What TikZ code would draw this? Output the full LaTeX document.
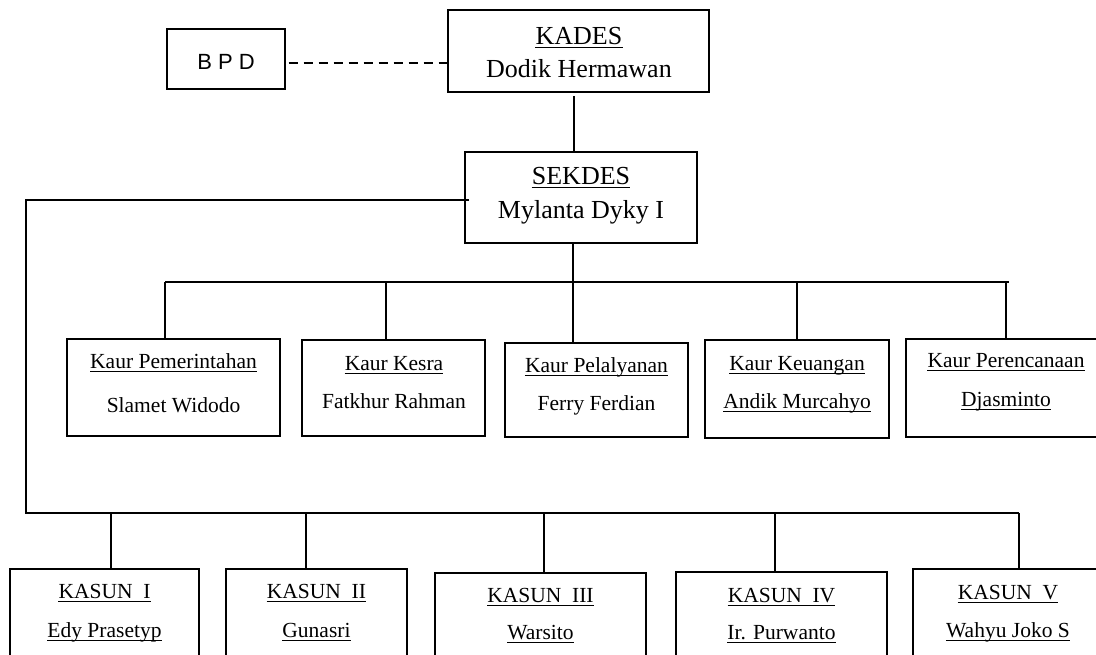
\documentclass[tikz,border=0pt]{standalone}
\usepackage{fontspec}
\setmainfont{Liberation Serif}
\newfontfamily\bpdfont{Liberation Sans}
\usetikzlibrary{fit}
\newcommand\bigf{\fontsize{26}{30}\selectfont}
\newcommand\smf{\fontsize{21.5}{25}\selectfont}
\tikzset{
  box/.style={draw, line width=1.4pt, inner sep=0pt},
  lbl/.style={anchor=base, inner sep=0pt},
  big/.style={lbl, font=\bigf},
  sml/.style={lbl, font=\smf},
  conn/.style={line width=1.4pt},
  ulline/.style={line width=1.1pt},
}
\begin{document}
\begin{tikzpicture}[x=1pt,y=-1pt]
\useasboundingbox (0,0) rectangle (1096,654);
\clip (0,0) rectangle (1096,654);
\fill[white] (0,0) rectangle (1096,654);
% top
\node[box, fit={(167,29) (285,89)}] (bpd) {};
\node[lbl, font=\bpdfont\fontsize{22}{26}\selectfont] (bpdt) at (226,69) {B P D};
\node[box, fit={(448,10) (709,92)}] (kad) {};
\node[big] (kadt1) at (579,44) {KADES};
\node[big] (kadt2) at (579,77) {Dodik Hermawan};
\node[box, fit={(465,152) (697,243)}] (sek) {};
\node[big] (sekt1) at (581,184) {SEKDES};
\node[big] (sekt2) at (581,218) {Mylanta Dyky I};
% kaur boxes
\node[box, fit={(67,339) (280,436)}] (kr1) {};
\node[box, fit={(302,340) (485,436)}] (kr2) {};
\node[box, fit={(505,343) (688,437)}] (kr3) {};
\node[box, fit={(705,340) (889,438)}] (kr4) {};
\node[box, fit={(906,339) (1106,437)}] (kr5) {};
\node[sml] (kr1a) at (173.5,368) {Kaur Pemerintahan};
\node[sml] (kr1b) at (173.5,412) {Slamet Widodo};
\node[sml] (kr2a) at (394,370) {Kaur Kesra};
\node[sml] (kr2b) at (394,408) {Fatkhur Rahman};
\node[sml] (kr3a) at (596.5,372) {Kaur Pelalyanan};
\node[sml] (kr3b) at (596.5,410) {Ferry Ferdian};
\node[sml] (kr4a) at (797,370) {Kaur Keuangan};
\node[sml] (kr4b) at (797,408) {Andik Murcahyo};
\node[sml] (kr5a) at (1006,367) {Kaur Perencanaan};
\node[sml] (kr5b) at (1006,406) {Djasminto};
% kasun boxes
\node[box, fit={(10,569) (199,690)}] (ks1) {};
\node[box, fit={(226,569) (407,690)}] (ks2) {};
\node[box, fit={(435,573) (646,690)}] (ks3) {};
\node[box, fit={(676,572) (887,690)}] (ks4) {};
\node[box, fit={(913,569) (1103,690)}] (ks5) {};
\node[sml] (ks1a) at (104.5,598) {KASUN\ \ I};
\node[sml] (ks1b) at (104.5,637) {Edy Prasetyp};
\node[sml] (ks2a) at (316.5,598) {KASUN\ \ II};
\node[sml] (ks2b) at (316.5,637) {Gunasri};
\node[sml] (ks3a) at (540.5,602) {KASUN\ \ III};
\node[sml] (ks3b) at (540.5,639) {Warsito};
\node[sml] (ks4a) at (781.5,602) {KASUN\ \ IV};
\node[sml] (ks4b) at (781.5,639) {Ir. Purwanto};
\node[sml] (ks5a) at (1008,599) {KASUN\ \ V};
\node[sml] (ks5b) at (1008,637) {Wahyu Joko S};
% underlines
\foreach \n in {kadt1,sekt1,kr1a,kr2a,kr3a,kr4a,kr4b,kr5a,kr5b,ks1a,ks1b,ks2a,ks2b,ks3a,ks3b,ks4a,ks4b,ks5a,ks5b}
  \draw[ulline] ([yshift=-3.3pt]\n.base west) -- ([yshift=-3.3pt]\n.base east);
% connectors
\coordinate (dsh) at (0,63);
\draw[conn, dash pattern=on 9pt off 6pt, shorten <=3pt] (bpd.east |- dsh) -- (kad.west |- dsh);
\coordinate (kdtop) at (574,96);
\draw[conn] (kdtop) -- (kdtop |- sek.north);
% kaur bus
\coordinate (kb1) at (165,282);
\coordinate (kb2) at (386,282);
\coordinate (kb3) at (573,282);
\coordinate (kb4) at (797,282);
\coordinate (kb5) at (1006,282);
\coordinate (kbend) at (1009,282);
\draw[conn] (kb3 |- sek.south) -- (kb3);
\draw[conn] (kb1) -- (kbend);
\draw[conn] (kb1) -- (kb1 |- kr1.north);
\draw[conn] (kb2) -- (kb2 |- kr2.north);
\draw[conn] (kb3) -- (kb3 |- kr3.north);
\draw[conn] (kb4) -- (kb4 |- kr4.north);
\draw[conn] (kb5) -- (kb5 |- kr5.north);
% kasun bus
\coordinate (sl) at (469,200);
\coordinate (corner1) at (26,200);
\coordinate (corner2) at (26,513);
\coordinate (sb1) at (111,513);
\coordinate (sb2) at (306,513);
\coordinate (sb3) at (544,513);
\coordinate (sb4) at (775,513);
\coordinate (sb5) at (1019,513);
\draw[conn] (sl) -- (corner1) -- (corner2) -- (sb5);
\draw[conn] (sb1) -- (sb1 |- ks1.north);
\draw[conn] (sb2) -- (sb2 |- ks2.north);
\draw[conn] (sb3) -- (sb3 |- ks3.north);
\draw[conn] (sb4) -- (sb4 |- ks4.north);
\draw[conn] (sb5) -- (sb5 |- ks5.north);
\end{tikzpicture}
\end{document}
